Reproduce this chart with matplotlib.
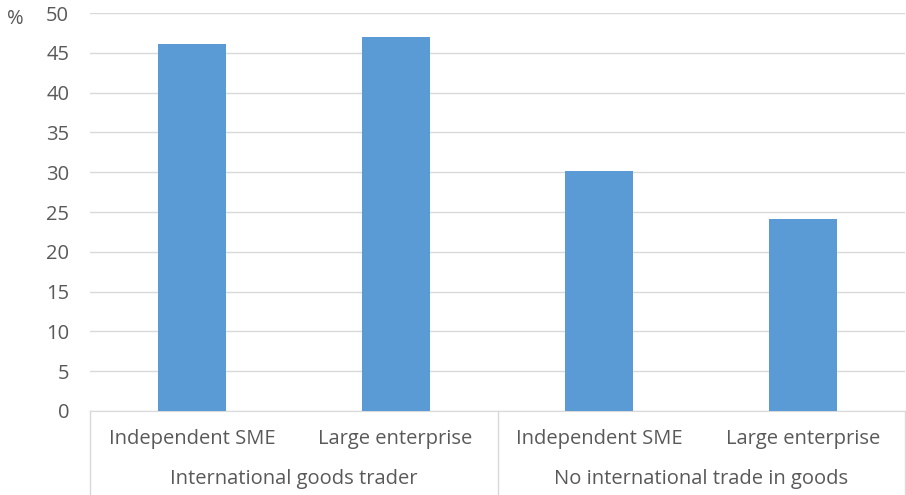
import matplotlib
matplotlib.use("Agg")
import matplotlib.pyplot as plt

# ── data ──────────────────────────────────────────────────────────────
groups = ["International goods trader", "No international trade in goods"]
sizes = ["Independent SME", "Large enterprise"]
values = [46.1, 47.0, 30.2, 24.1]
yticks = list(range(0, 51, 5))

BAR = "#5b9bd5"
GRID = "#d9d9d9"
TXT = "#595959"
FS = 14.5
plt.rcParams["font.family"] = ["Open Sans", "DejaVu Sans"]

fig = plt.figure(figsize=(9.06, 4.95), dpi=100)
ax = fig.add_axes([90 / 906, 84 / 495, 815 / 906, 398 / 495])

x = list(range(len(values)))
ax.bar(x, values, width=1 / 3, color=BAR, zorder=3)
ax.set_xlim(-0.5, len(values) - 0.5)
ax.set_ylim(0, 50)
ax.set_yticks(yticks)
ax.set_yticklabels([str(t) for t in yticks], fontsize=FS, color=TXT)
ax.tick_params(axis="y", length=0, pad=15)
ax.set_xticks([])
ax.grid(axis="y", color=GRID, lw=1, zorder=0)
for s in ["top", "right", "left"]:
    ax.spines[s].set_visible(False)
ax.spines["bottom"].set_color(GRID)

ax.text(-0.092, 0.985, "%", transform=ax.transAxes, fontsize=FS, color=TXT,
        ha="center", va="center")

# two-level category axis
trans = ax.get_xaxis_transform()
for i, v in enumerate(values):
    ax.text(i, -0.07, sizes[i % 2], transform=trans, fontsize=FS, color=TXT,
            ha="center", va="center")
for g, name in enumerate(groups):
    ax.text(2 * g + 0.5, -0.172, name, transform=trans, fontsize=FS, color=TXT,
            ha="center", va="center")
for xb in [-0.5, 1.5, 3.5]:
    ax.plot([xb, xb], [0, -0.22], transform=trans, color=GRID, lw=1,
            clip_on=False)

fig.savefig("out.png", dpi=100)
